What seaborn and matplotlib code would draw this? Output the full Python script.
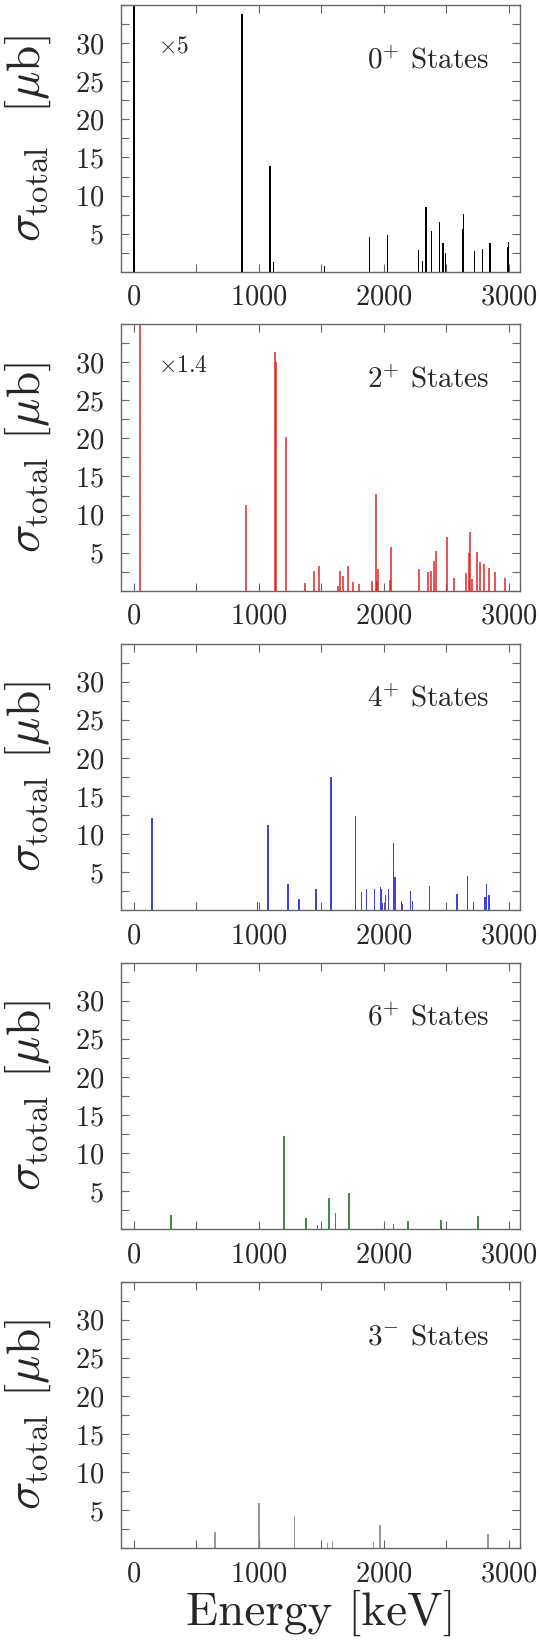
"""Total cross sections of the excited states, split by spin/parity."""

import numpy as np
import pandas as pd
import matplotlib
matplotlib.use("Agg")
import matplotlib.pyplot as plt
from matplotlib.ticker import FixedLocator, MultipleLocator
import seaborn as sns


# 0+ states (first one is off scale, shown x5)
e_0p = [0, 866, 1089, 1117, 1527, 1886, 2032, 2277, 2308, 2338, 2379, 2448,
        2473, 2492, 2634, 2641, 2729, 2790, 2851, 2989, 3000]
s_0p = [60, 33.8, 13.9, 1.3, 0.75, 4.5, 4.8, 2.8, 1.4, 8.55, 5.35, 6.5,
        3.8, 2.5, 5.6, 7.6, 2.7, 3.0, 3.8, 3.25, 3.9]

# 2+ states
e_2p = [45, 899, 1130, 1139, 1221, 1369, 1441, 1479, 1633, 1647, 1673, 1713,
        1753, 1799, 1903, 1935, 1943, 1951, 2047, 2058, 2279, 2354, 2375,
        2399, 2415, 2509, 2562, 2661, 2680, 2693, 2706, 2744, 2768, 2802,
        2842, 2888, 2972]
s_2p = [50, 11.3, 31.3, 30.0, 20.2, 0.96, 2.54, 3.28, 0.6, 2.54, 1.9, 3.3,
        1.14, 0.92, 1.27, 12.7, 1.27, 2.84, 1.4, 5.69, 2.8, 2.4, 2.58,
        3.9, 5.2, 7.0, 1.7, 2.3, 4.94, 7.74, 1.53, 5.07, 3.8, 3.46,
        2.93, 2.4, 1.7]

# 4+ states
e_4p = [143, 990, 1075, 1232, 1321, 1456, 1577, 1775, 1820, 1860, 1924, 1972,
        1980, 1988, 2015, 2039, 2079, 2090, 2140, 2148, 2215, 2231, 2367,
        2586, 2671, 2720, 2812, 2823, 2837, 2848]
s_4p = [12.1, 1.05, 11.2, 3.4, 1.45, 2.76, 17.5, 12.35, 2.36, 2.8, 2.84, 3.02,
        2.76, 0.96, 2.06, 2.84, 8.8, 4.33, 1.18, 0.79, 2.58, 1.18, 3.24,
        2.19, 4.55, 1.05, 1.75, 3.4, 2.0, 2.0]

# 6+ states
e_6p = [298, 1202, 1376, 1469, 1560, 1613, 1723, 2076, 2194, 2459, 2754]
s_6p = [1.9, 12.3, 1.5, 0.57, 4.13, 2.15, 4.8, 0.7, 1.1, 1.2, 1.76]

# 3- states
e_3m = [648, 1001, 1284, 1549, 1588, 1919, 1971, 2834]
s_3m = [2.19, 5.95, 4.24, 0.66, 0.96, 0.79, 3.07, 1.89]


sns.set_style("ticks")
plt.rcParams['font.family'] = 'serif'
plt.rcParams['font.serif'] = ['cmr10']
plt.rcParams['mathtext.fontset'] = 'cm'
plt.rcParams['axes.formatter.use_mathtext'] = True
plt.rcParams['axes.unicode_minus'] = False

panels = [
    (e_0p, s_0p, 'black', 1.0, 10, r"0$^{+}$ States", r"$\times\mathbf{5}$"),
    (e_2p, s_2p, 'red', 0.75, 16, r"2$^{+}$ States", r"$\times\mathbf{1.4}$"),
    (e_4p, s_4p, 'blue', 0.85, 12, r"4$^{+}$ States", None),
    (e_6p, s_6p, 'green', 0.8, 12, r"6$^{+}$ States", None),
    (e_3m, s_3m, 'gray', 0.8, 12, r"3$^{-}$ States", None),
]

fig = plt.figure(figsize=(5.4, 16.52), dpi=100)
bottoms = [0.8355, 0.6424, 0.4490, 0.2559, 0.0628]
spine_col = '#666666'

for i, (en, sig, col, alpha, bar_kev, label, scale_txt) in enumerate(panels):
    ax = fig.add_axes([0.2235, bottoms[i], 0.7394, 0.1614])
    df = pd.DataFrame({'energy': en, 'sigma': sig})
    min_gap = np.diff(np.unique(df['energy'])).min()
    sns.barplot(data=df, x='energy', y='sigma', native_scale=True,
                width=bar_kev / min_gap, color=col, alpha=alpha,
                errorbar=None, linewidth=0, ax=ax)

    ax.set_xlim(-106, 3090)
    ax.set_ylim(0, 35)
    ax.xaxis.set_major_locator(FixedLocator([0, 1000, 2000, 3000]))
    ax.xaxis.set_minor_locator(MultipleLocator(500))
    ax.yaxis.set_major_locator(FixedLocator([5, 10, 15, 20, 25, 30]))
    ax.yaxis.set_minor_locator(MultipleLocator(2.5))
    ax.tick_params(which='both', direction='in', top=True, right=True,
                   length=6, width=0.8, color=spine_col, labelsize=20.5)
    ax.tick_params(axis='y', pad=12)
    ax.tick_params(axis='x', pad=9)
    for sp in ax.spines.values():
        sp.set_color(spine_col)
        sp.set_linewidth(1.0)

    gap = "  " if i == 0 else " "
    ax.set_ylabel(r"$\sigma_{\rm total}$" + gap + r"[$\mu$b]", fontsize=34)
    ax.yaxis.set_label_coords(-0.17, 0.5)
    ax.set_xlabel('')

    ax.text(0.922, 0.763, label, transform=ax.transAxes, fontsize=21,
            ha='right', va='baseline')
    if scale_txt:
        ax.text(0.094, 0.822, scale_txt, transform=ax.transAxes,
                fontsize=17, ha='left', va='baseline')

ax.set_xlabel("Energy [keV]", fontsize=34, labelpad=2)

plt.savefig("out.png", dpi=100)
